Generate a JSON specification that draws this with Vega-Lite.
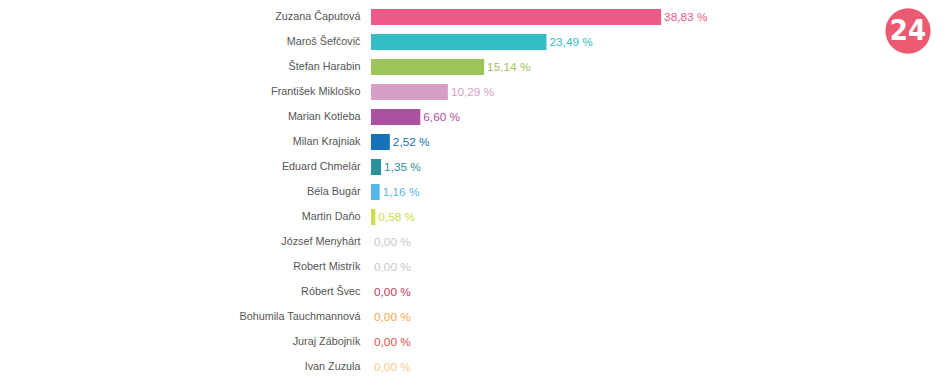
{
  "$schema": "https://vega.github.io/schema/vega-lite/v6.json",
  "autosize": "none",
  "width": 579,
  "height": 375,
  "padding": {"left": 371, "top": 4.5, "right": 0, "bottom": 0},
  "background": "white",
  "config": {"view": {"stroke": null}, "font": "Liberation Sans"},
  "layer": [
    {
      "data": {"name": "votes", "values": [
        {"name": "Zuzana Čaputová", "pct": 38.83},
        {"name": "Maroš Šefčovič", "pct": 23.49},
        {"name": "Štefan Harabin", "pct": 15.14},
        {"name": "František Mikloško", "pct": 10.29},
        {"name": "Marian Kotleba", "pct": 6.60},
        {"name": "Milan Krajniak", "pct": 2.52},
        {"name": "Eduard Chmelár", "pct": 1.35},
        {"name": "Béla Bugár", "pct": 1.16},
        {"name": "Martin Daňo", "pct": 0.58},
        {"name": "József Menyhárt", "pct": 0.00},
        {"name": "Robert Mistrík", "pct": 0.00},
        {"name": "Róbert Švec", "pct": 0.00},
        {"name": "Bohumila Tauchmannová", "pct": 0.00},
        {"name": "Juraj Zábojník", "pct": 0.00},
        {"name": "Ivan Zuzula", "pct": 0.00}
      ]},
      "transform": [
        {"calculate": "replace(format(datum.pct, '.2f'), '.', ',') + ' %'", "as": "label"}
      ],
      "encoding": {
        "y": {
          "field": "name", "type": "nominal", "sort": null,
          "scale": {"paddingInner": 0.36, "paddingOuter": 0.18},
          "axis": {"title": null, "domain": false, "ticks": false, "labelPadding": 11,
                   "labelFontSize": 10.8, "labelColor": "#555555", "labelFont": "Liberation Sans"}
        },
        "x": {
          "field": "pct", "type": "quantitative",
          "scale": {"domain": [0, 77.5], "nice": false},
          "axis": null
        },
        "color": {
          "field": "name", "type": "nominal", "legend": null,
          "scale": {
            "domain": ["Zuzana Čaputová", "Maroš Šefčovič", "Štefan Harabin", "František Mikloško", "Marian Kotleba", "Milan Krajniak", "Eduard Chmelár", "Béla Bugár", "Martin Daňo", "József Menyhárt", "Robert Mistrík", "Róbert Švec", "Bohumila Tauchmannová", "Juraj Zábojník", "Ivan Zuzula"],
            "range": ["#ed5a87", "#34bdc7", "#9bc459", "#d69fc8", "#aa519f", "#1672b9", "#2b929b", "#55b8ea", "#cddc4c", "#c8c8c8", "#c8c8c8", "#c33c62", "#f6a64c", "#e2524c", "#f9ca8c"]
          }
        }
      },
      "layer": [
        {"mark": {"type": "bar"}},
        {"mark": {"type": "text", "align": "left", "baseline": "middle", "dx": 3, "fontSize": 11.8, "font": "Liberation Sans"},
         "encoding": {"text": {"field": "label"}}}
      ]
    },
    {
      "data": {"values": [{"logo": "24"}]},
      "encoding": {
        "x": {"datum": 71.88, "type": "quantitative"},
        "y": {"datum": "Maroš Šefčovič", "type": "nominal"}
      },
      "layer": [
        {"mark": {"type": "point", "shape": "circle", "filled": true, "size": 2050, "color": "#ec5a72", "opacity": 1, "yOffset": -11}},
        {"mark": {"type": "text", "color": "white", "fontSize": 29, "fontWeight": "bold", "font": "DejaVu Sans Condensed", "align": "center", "baseline": "middle", "yOffset": -11, "dx": 0},
         "encoding": {"text": {"field": "logo"}}}
      ]
    }
  ]
}
